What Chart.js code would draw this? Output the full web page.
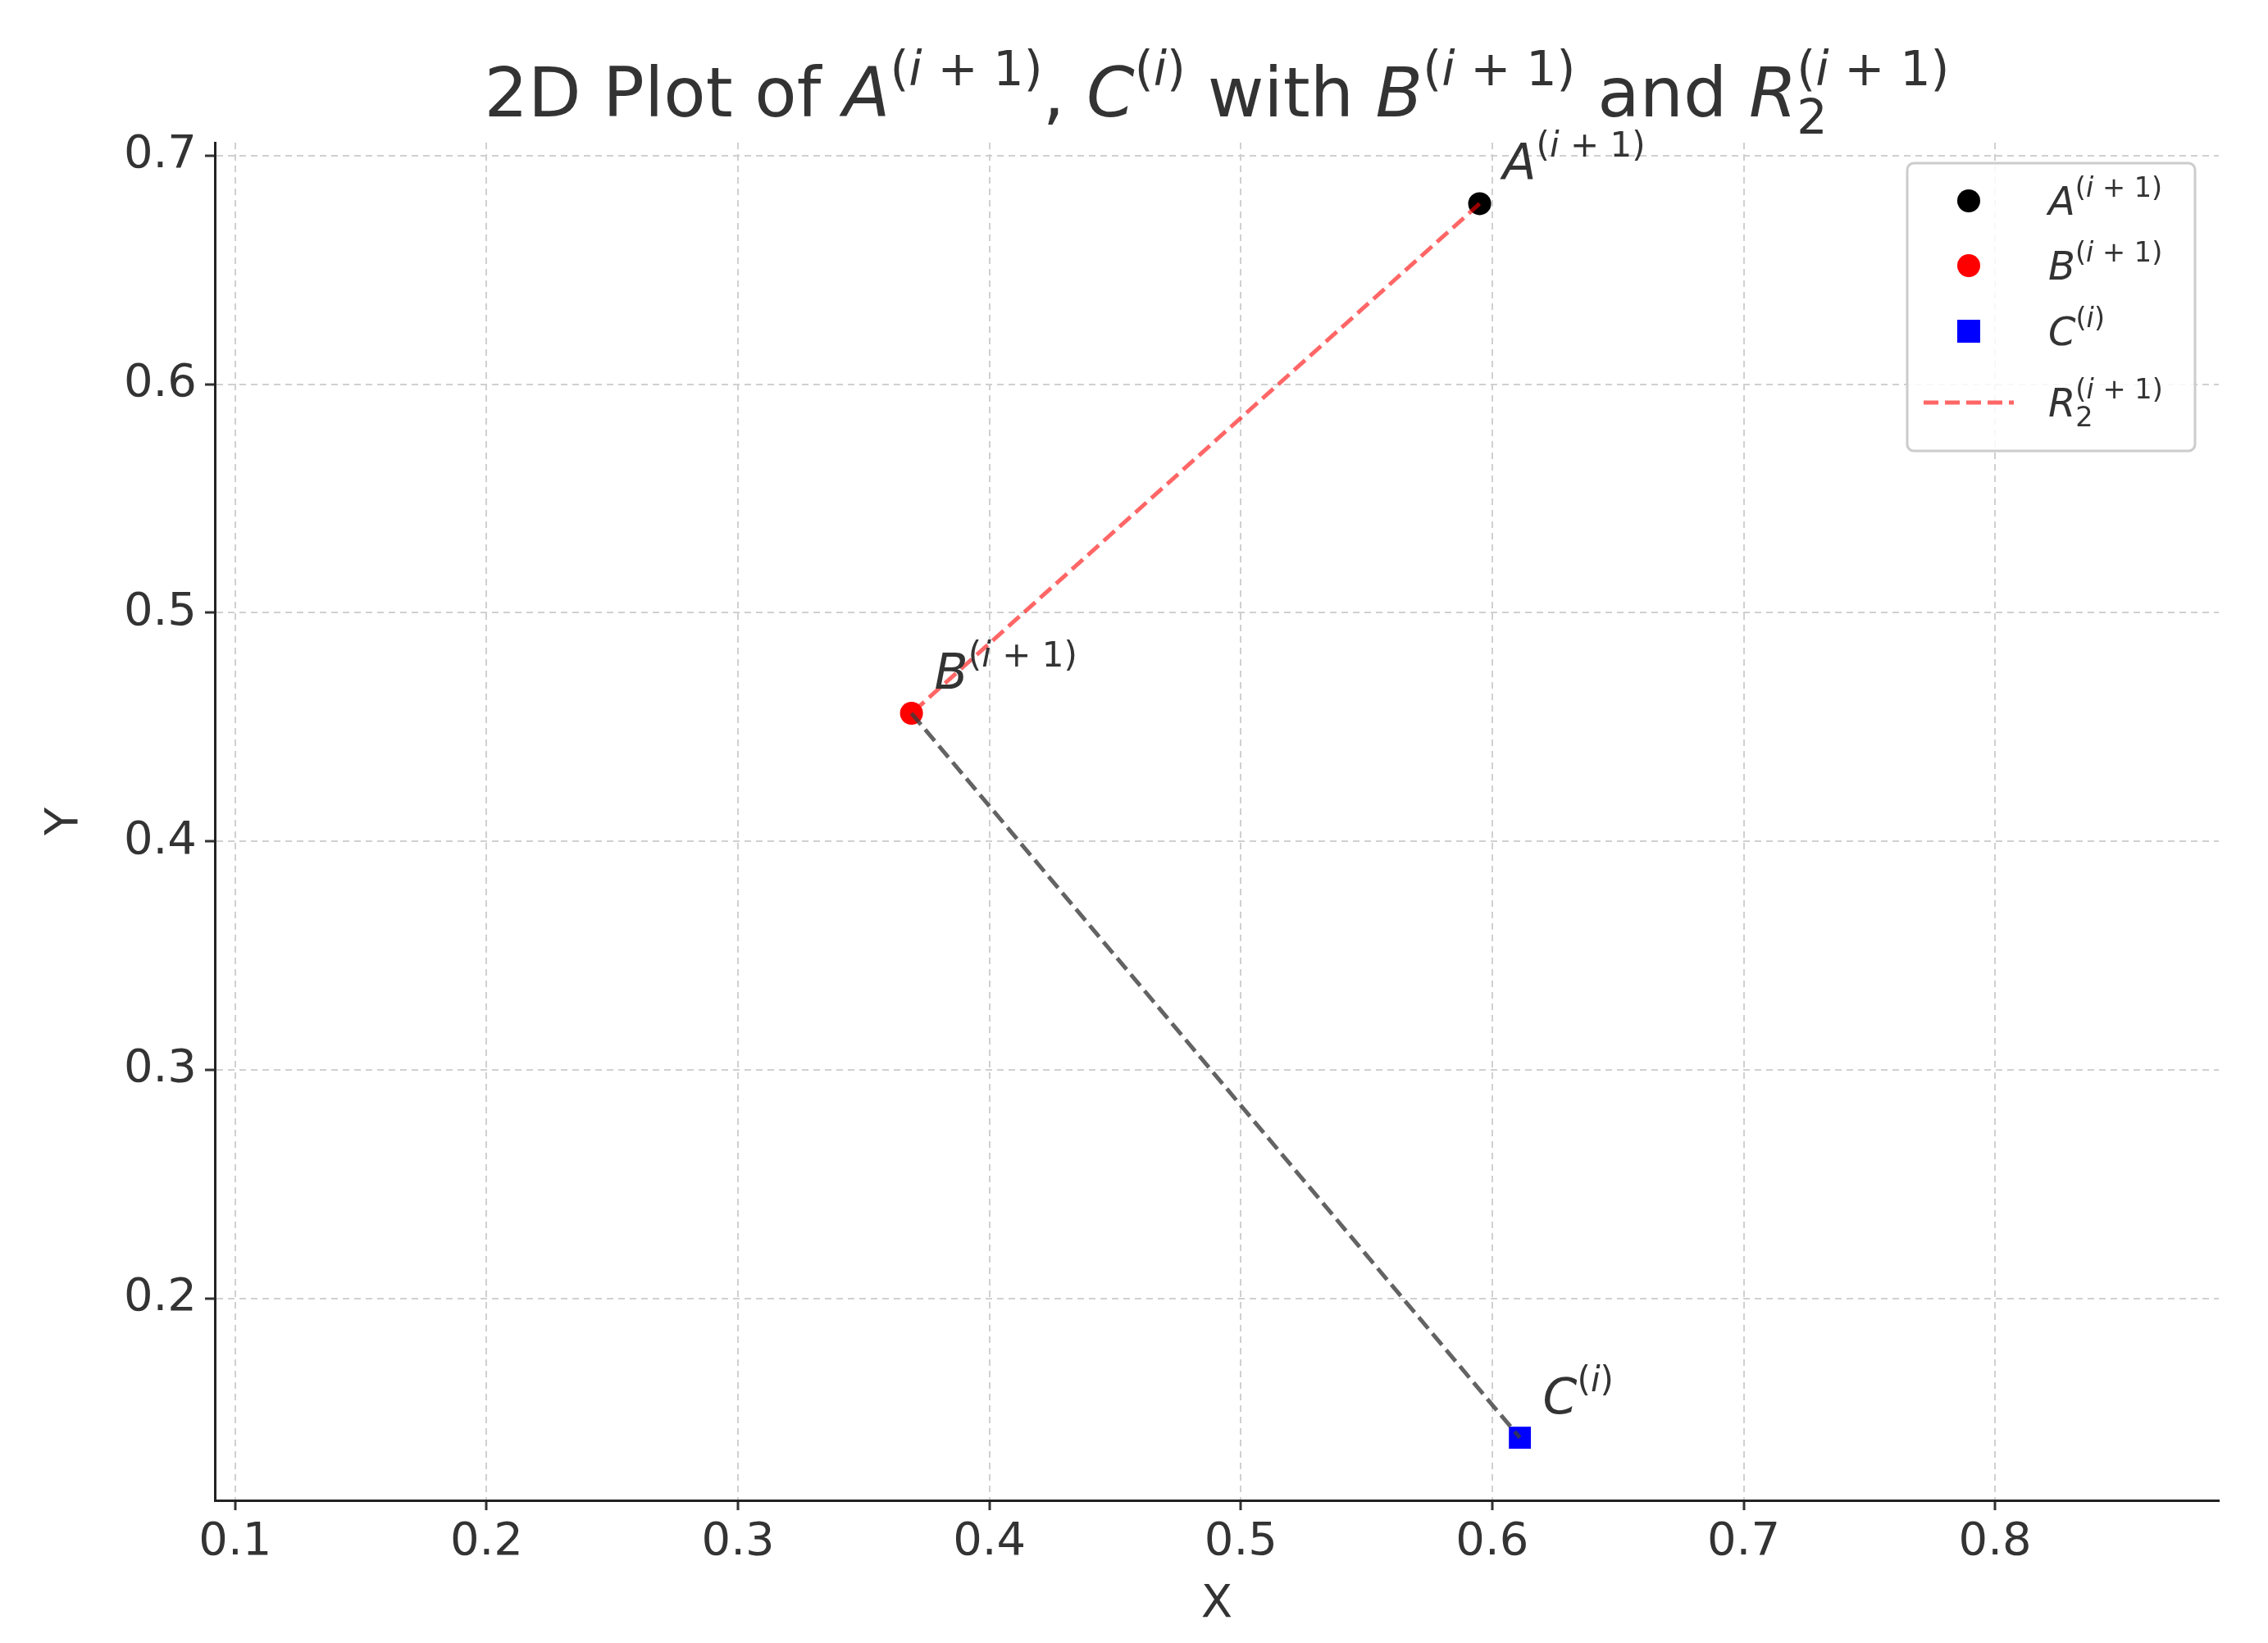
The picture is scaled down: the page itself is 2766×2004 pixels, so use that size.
<!DOCTYPE html>
<html>
<head>
<meta charset="utf-8">
<script src="https://cdn.jsdelivr.net/npm/chart.js@4"></script>
<style>
	html, body { margin: 0; padding: 0; background: #fff; }
	canvas { display: block; }
</style>
</head>
<body>
<canvas id="c" width="2766" height="2004"></canvas>
<script>
// data
let pointA = [{ x: 0.595, y: 0.679 }]
let pointB = [{ x: 0.369, y: 0.456 }]
let pointC = [{ x: 0.611, y: 0.139 }]
let lineAB = [{ x: 0.595, y: 0.679 }, { x: 0.369, y: 0.456 }]
let lineBC = [{ x: 0.369, y: 0.456 }, { x: 0.611, y: 0.139 }]
let xTicks = [0.1, 0.2, 0.3, 0.4, 0.5, 0.6, 0.7, 0.8]
let yTicks = [0.2, 0.3, 0.4, 0.5, 0.6, 0.7]
let xRange = [0.0919, 0.889]
let yRange = [0.1116, 0.7057]

const FONT = '"DejaVu Sans", sans-serif'
const INK = '#333333'
const SUP_I1 = [['(', 0], ['i', 1], [' + 1)', 0]]
const SUP_I = [['(', 0], ['i', 1], [')', 0]]

// draws segments of [text, italic] at a size, returns the new x
let seg = (ctx, x, y, parts, size) => {
	parts.forEach(p => {
		ctx.font = (p[1] ? 'italic ' : '') + size + 'px ' + FONT
		ctx.fillText(p[0], x, y)
		x += ctx.measureText(p[0]).width
	})
	return x
}
let mathWidth = (ctx, items, size) => {
	let w = 0
	items.forEach(it => {
		let s = it.size ? size * it.size : size
		it.parts.forEach(p => {
			ctx.font = (p[1] ? 'italic ' : '') + s + 'px ' + FONT
			w += ctx.measureText(p[0]).width
		})
	})
	return w
}
// items: {parts, size (factor), dy (factor), same (reuse x of previous start)}
let drawMath = (ctx, x, y, items, size) => {
	let lastStart = x, lastEnd = x
	items.forEach(it => {
		let s = it.size ? size * it.size : size
		let start = it.same ? lastStart : x
		let end = seg(ctx, start, y + (it.dy || 0) * size, it.parts, s)
		if (it.same) { x = Math.max(end, lastEnd) } else { x = end; lastStart = start }
		lastEnd = end
	})
	return x
}
let label = (letter, sup) => [
	{ parts: [[letter, 1]] },
	{ parts: sup, size: 0.7, dy: -0.45 }
]
let labelR = () => [
	{ parts: [['R', 1]] },
	{ parts: SUP_I1, size: 0.7, dy: -0.45 },
	{ parts: [['2', 0]], size: 0.7, dy: 0.25, same: true }
]

let decor = {
	id: 'decor',
	afterDraw: chart => {
		let ctx = chart.ctx
		let xs = chart.scales.x, ys = chart.scales.y
		ctx.save()
		ctx.fillStyle = INK
		ctx.textBaseline = 'alphabetic'
		ctx.textAlign = 'left'

		// title
		let tsize = 84
		let title = [
			{ parts: [['2D Plot of ', 0]] }, ...label('A', SUP_I1),
			{ parts: [[', ', 0]] }, ...label('C', SUP_I),
			{ parts: [[' with ', 0]] }, ...label('B', SUP_I1),
			{ parts: [[' and ', 0]] }, ...labelR()
		]
		let tw = mathWidth(ctx, title.filter(t => !t.same), tsize)
		drawMath(ctx, (chart.chartArea.left + chart.chartArea.right) / 2 - tw / 2, 142, title, tsize)

		// axis titles
		ctx.font = '56px ' + FONT
		ctx.textAlign = 'center'
		ctx.fillText('X', (chart.chartArea.left + chart.chartArea.right) / 2, 1972)
		ctx.save()
		ctx.translate(94, (chart.chartArea.top + chart.chartArea.bottom) / 2)
		ctx.rotate(-Math.PI / 2)
		ctx.fillText('Y', 0, 0)
		ctx.restore()
		ctx.textAlign = 'left'

		// point annotations
		let ann = [[pointA[0], 'A', SUP_I1], [pointB[0], 'B', SUP_I1], [pointC[0], 'C', SUP_I]]
		ann.forEach(a => {
			let px = xs.getPixelForValue(a[0].x), py = ys.getPixelForValue(a[0].y)
			drawMath(ctx, px + 28, py - 30, label(a[1], a[2]), 60)
		})

		// legend
		let bx = 2326, by = 199, bw = 351, bh = 351
		ctx.fillStyle = 'rgba(255,255,255,0.85)'
		ctx.strokeStyle = '#cccccc'
		ctx.lineWidth = 3
		ctx.beginPath()
		ctx.roundRect(bx, by, bw, bh, 8)
		ctx.fill()
		ctx.stroke()
		let rows = [245, 324, 404, 491]
		ctx.fillStyle = 'black'
		ctx.beginPath(); ctx.arc(2401, rows[0], 14, 0, Math.PI * 2); ctx.fill()
		ctx.fillStyle = 'red'
		ctx.beginPath(); ctx.arc(2401, rows[1], 14, 0, Math.PI * 2); ctx.fill()
		ctx.fillStyle = 'blue'
		ctx.fillRect(2387, rows[2] - 14, 28, 28)
		ctx.strokeStyle = 'rgba(255,0,0,0.6)'
		ctx.lineWidth = 5
		ctx.setLineDash([18, 8])
		ctx.beginPath(); ctx.moveTo(2346, rows[3]); ctx.lineTo(2456, rows[3]); ctx.stroke()
		ctx.setLineDash([])
		ctx.fillStyle = INK
		let lsize = 48
		drawMath(ctx, 2498, rows[0] + 17, label('A', SUP_I1), lsize)
		drawMath(ctx, 2498, rows[1] + 17, label('B', SUP_I1), lsize)
		drawMath(ctx, 2498, rows[2] + 17, label('C', SUP_I), lsize)
		drawMath(ctx, 2498, rows[3] + 17, labelR(), lsize)
		ctx.restore()
	}
}

let gridOpts = {
	color: '#d0d0d0',
	lineWidth: 2,
	tickColor: '#333333',
	tickLength: 12,
	tickWidth: 3
}

new Chart(document.getElementById('c'), {
	type: 'scatter',
	data: {
		datasets: [
			{ data: lineAB, showLine: true, borderColor: 'rgba(255,0,0,0.6)', borderWidth: 5, borderDash: [18, 8], pointRadius: 0 },
			{ data: lineBC, showLine: true, borderColor: 'rgba(60,60,60,0.8)', borderWidth: 5, borderDash: [18, 8], pointRadius: 0 },
			{ data: pointA, backgroundColor: 'black', borderWidth: 0, pointRadius: 14 },
			{ data: pointB, backgroundColor: 'red', borderWidth: 0, pointRadius: 14 },
			{ data: pointC, backgroundColor: 'blue', borderWidth: 0, pointRadius: 19, pointStyle: 'rect' }
		]
	},
	options: {
		responsive: false,
		devicePixelRatio: 1,
		animation: false,
		layout: { padding: { top: 174, right: 60, left: 0, bottom: 0 } },
		plugins: { legend: { display: false }, title: { display: false }, tooltip: { enabled: false } },
		scales: {
			x: {
				type: 'linear', min: xRange[0], max: xRange[1],
				afterBuildTicks: s => { s.ticks = xTicks.map(v => ({ value: v })) },
				afterFit: s => { s.height = 174 },
				grid: { ...gridOpts },
				border: { color: '#222', width: 3, dash: [8, 6] },
				ticks: { color: INK, font: { family: FONT, size: 56 }, padding: 6, callback: v => v.toFixed(1) }
			},
			y: {
				type: 'linear', min: yRange[0], max: yRange[1],
				afterBuildTicks: s => { s.ticks = yTicks.map(v => ({ value: v })) },
				afterFit: s => { s.width = 262 },
				grid: { ...gridOpts },
				border: { color: '#222', width: 3, dash: [8, 6] },
				ticks: { color: INK, font: { family: FONT, size: 56 }, padding: 10, callback: v => v.toFixed(1) }
			}
		}
	},
	plugins: [decor]
})
</script>
</body>
</html>
